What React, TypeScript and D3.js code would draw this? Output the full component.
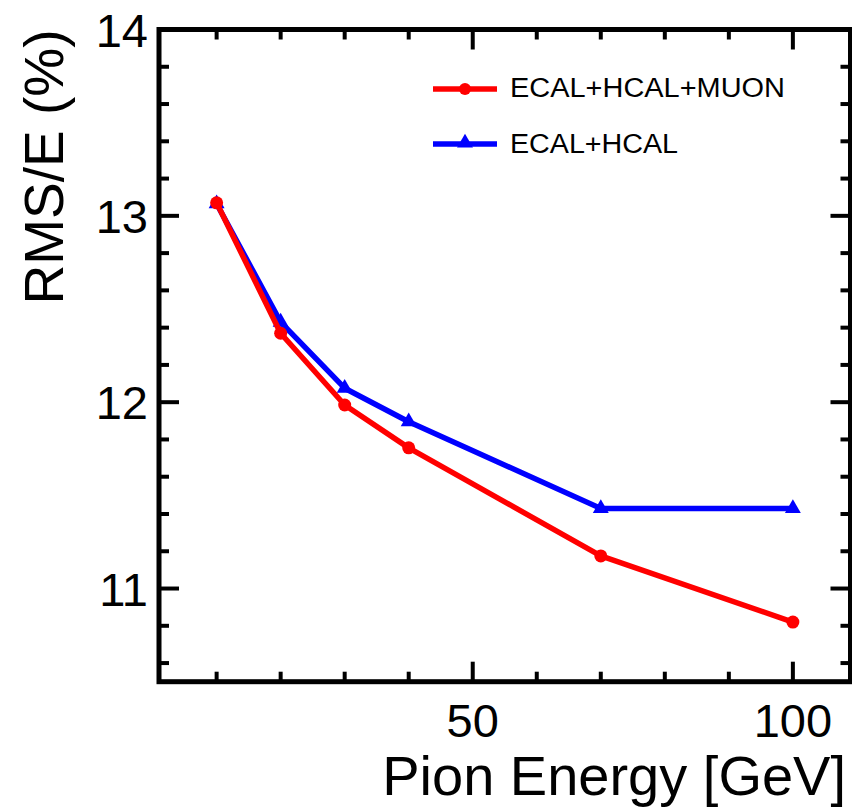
import React from "react";
import * as d3 from "d3";

const energies = [10, 20, 30, 40, 70, 100];
const redValues = [13.07, 12.37, 11.985, 11.755, 11.175, 10.82];
const blueValues = [13.065, 12.43, 12.075, 11.895, 11.43, 11.43];
const seriesNames = ["ECAL+HCAL+MUON", "ECAL+HCAL"];
const xMajorTicks = [50, 100];
const xMinorTicks = [10, 20, 30, 40, 60, 70, 80, 90];
const yMajorTicks = [11, 12, 13, 14];
const yMinorTicks = [10.6, 10.8, 11.2, 11.4, 11.6, 11.8, 12.2, 12.4, 12.6, 12.8, 13.2, 13.4, 13.6, 13.8];

const W = 852;
const H = 807;
const FONT = "'Liberation Sans', Arial, sans-serif";

export default function App() {
  const x = d3.scaleLinear().domain([1, 109]).range([159, 850.5]);
  const y = d3.scaleLinear().domain([10.5, 14]).range([681.7, 29.5]);
  const [x0, x1] = x.range();
  const [y0, y1] = y.range();

  const line = d3
    .line<number>()
    .x((_, i) => x(energies[i]))
    .y((d) => y(d));

  const major = 20;
  const minor = 10;
  const tickW = 4;
  const tri = d3.symbol().type(d3.symbolTriangle).size(110)() as string;

  return (
    <svg width={W} height={H} style={{ position: "absolute", left: 0, top: 0, background: "#fff" }}>
      <rect x={0} y={0} width={W} height={H} fill="#fff" />
      {/* ticks */}
      <g stroke="#000" strokeWidth={tickW}>
        {xMajorTicks.map((t) => (
          <g key={"xM" + t}>
            <line x1={x(t)} x2={x(t)} y1={y0} y2={y0 - major} />
            <line x1={x(t)} x2={x(t)} y1={y1} y2={y1 + major} />
          </g>
        ))}
        {xMinorTicks.map((t) => (
          <g key={"xm" + t}>
            <line x1={x(t)} x2={x(t)} y1={y0} y2={y0 - minor} />
            <line x1={x(t)} x2={x(t)} y1={y1} y2={y1 + minor} />
          </g>
        ))}
        {yMajorTicks.map((t) => (
          <g key={"yM" + t}>
            <line x1={x0} x2={x0 + major} y1={y(t)} y2={y(t)} />
            <line x1={x1} x2={x1 - major} y1={y(t)} y2={y(t)} />
          </g>
        ))}
        {yMinorTicks.map((t) => (
          <g key={"ym" + t}>
            <line x1={x0} x2={x0 + minor} y1={y(t)} y2={y(t)} />
            <line x1={x1} x2={x1 - minor} y1={y(t)} y2={y(t)} />
          </g>
        ))}
      </g>
      <rect x={x0} y={y1} width={x1 - x0} height={y0 - y1} fill="none" stroke="#000" strokeWidth={5} />

      {/* tick labels */}
      <g fontFamily={FONT} fontSize={47} fill="#000">
        {xMajorTicks.map((t) => (
          <text key={"xl" + t} x={x(t)} y={737} textAnchor="middle">
            {t}
          </text>
        ))}
        {yMajorTicks.map((t) => (
          <text key={"yl" + t} x={148} y={y(t) + 17} textAnchor="end">
            {t}
          </text>
        ))}
      </g>

      {/* axis titles */}
      <text x={846} y={795} textAnchor="end" fontFamily={FONT} fontSize={56} fill="#000">
        Pion Energy [GeV]
      </text>
      <text
        transform={`translate(63,167) rotate(-90)`}
        textAnchor="middle"
        fontFamily={FONT}
        fontSize={55}
        fill="#000"
      >
        RMS/E (%)
      </text>

      {/* series */}
      <path d={line(blueValues) as string} fill="none" stroke="#0000ff" strokeWidth={5.5} strokeLinejoin="round" />
      {blueValues.map((v, i) => (
        <path key={"b" + i} d={tri} transform={`translate(${x(energies[i])},${y(v)})`} fill="#0000ff" />
      ))}
      <path d={line(redValues) as string} fill="none" stroke="#ff0000" strokeWidth={5.5} strokeLinejoin="round" />
      {redValues.map((v, i) => (
        <circle key={"r" + i} cx={x(energies[i])} cy={y(v)} r={6.5} fill="#ff0000" />
      ))}

      {/* legend */}
      <g fontFamily={FONT} fontSize={27} fill="#000">
        <line x1={433} x2={497} y1={89} y2={89} stroke="#ff0000" strokeWidth={5.5} />
        <circle cx={465} cy={89} r={6} fill="#ff0000" />
        <text x={510} y={97} textLength={275} lengthAdjust="spacingAndGlyphs">
          {seriesNames[0]}
        </text>
        <line x1={433} x2={497} y1={144} y2={144} stroke="#0000ff" strokeWidth={5.5} />
        <path d={tri} transform="translate(465,143)" fill="#0000ff" />
        <text x={510} y={153} textLength={168} lengthAdjust="spacingAndGlyphs">
          {seriesNames[1]}
        </text>
      </g>
    </svg>
  );
}
